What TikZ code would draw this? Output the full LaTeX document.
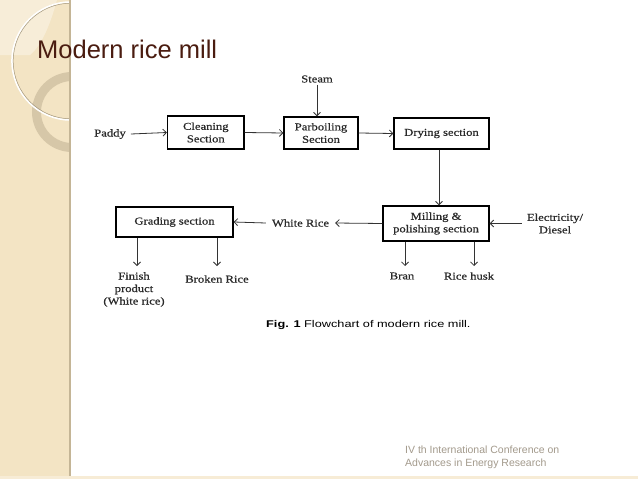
\documentclass[tikz,border=0pt]{standalone}
\usepackage{fontspec}
\setmainfont{Liberation Serif}
\newfontfamily\diagfont[FakeStretch=1.2,FakeBold=0.7]{Liberation Serif}
\newfontfamily\capfont[FakeStretch=1.3]{Liberation Sans}
\newfontfamily\slidefont{Liberation Sans}
\usetikzlibrary{arrows.meta}
\definecolor{stripbg}{HTML}{F3E4C4}
\definecolor{stripedge}{HTML}{C4B596}
\definecolor{ringcol}{HTML}{CDBE9F}
\definecolor{titlecol}{HTML}{4A1C10}
\definecolor{footcol}{HTML}{A39A8C}
\definecolor{arrcol}{HTML}{333333}
\definecolor{diagtext}{HTML}{2A2A2A}
\tikzset{
  procbox/.style={draw=black, line width=1.3pt, align=center, inner sep=0pt, text=diagtext,
    font=\diagfont\fontsize{10.5}{12.5}\selectfont},
  lbl/.style={align=center, inner sep=2pt, text=diagtext, font=\diagfont\fontsize{10.5}{12.5}\selectfont},
  flow/.style={draw=arrcol, line width=0.8pt, -{Straight Barb[length=3.5pt,width=7pt]}}
}
\begin{document}
\begin{tikzpicture}[x=1pt,y=-1pt]
\useasboundingbox (0,0) rectangle (638,479);
\fill[white] (0,0) rectangle (638,479);
% left strip
\fill[stripbg] (0,0) rectangle (70,479);
\begin{scope}
  \clip (0,0) rectangle (70,479);
  \fill[white, opacity=0.35] (0,0) -- (57,0) .. controls (50,25) and (42,45) .. (30,55) -- (0,55) -- cycle;
  \draw[ringcol, opacity=0.75, line width=9pt] (72,112) circle [radius=35.5];
  \draw[white, line width=1.6pt] (71,61) circle [radius=59];
  \draw[ringcol!80!black, line width=0.5pt] (71,61) circle [radius=57.8];
\end{scope}
\fill[stripedge] (69,0) rectangle (71,479);
\fill[stripbg!70!white] (0,476) rectangle (638,479);
% title
\node[anchor=base west, inner sep=0pt, text=titlecol,
  font=\slidefont\fontsize{25.5}{30}\selectfont] (title) at (37,58) {Modern rice mill};
% boxes
\node[procbox, minimum width=76.5pt, minimum height=33pt] (clean) at (205.8,132.5) {Cleaning\\Section};
\node[procbox, minimum width=74pt, minimum height=32pt] (parb) at (321,133) {Parboiling\\Section};
\node[procbox, minimum width=95pt, minimum height=31pt] (dry) at (441.5,133.5) {Drying section};
\node[procbox, minimum width=106pt, minimum height=35pt] (mill) at (436,223.5) {Milling \&\\polishing section};
\node[procbox, minimum width=117pt, minimum height=30pt] (grade) at (174.5,222) {Grading section};
% labels
\node[lbl] (paddy) at (110,134) {Paddy};
\node[lbl] (steam) at (317,79) {Steam};
\node[lbl] (elec) at (555,223.5) {Electricity/\\Diesel};
\node[lbl] (white) at (300.5,223) {White Rice};
\node[lbl] (finish) at (134,289.5) {Finish\\product\\(White rice)};
\node[lbl] (broken) at (217,279) {Broken Rice};
\node[lbl] (bran) at (402,276) {Bran};
\node[lbl] (husk) at (469,276) {Rice husk};
% free ends
\coordinate (g1) at (137,266);
\coordinate (g2) at (217,266);
\coordinate (m1) at (405,266);
\coordinate (m2) at (474,266);
\coordinate (d1) at (439,149);
% connectors
\draw[flow] ([xshift=3pt]paddy.east) -- (clean.west);
\draw[flow] (clean.east) -- (parb.west);
\draw[flow] (steam.south) -- (steam.south |- parb.north);
\draw[flow] (parb.east) -- (dry.west);
\draw[flow] (d1 |- dry.south) -- (d1 |- mill.north);
\draw[flow] ([xshift=-3pt]elec.west) -- (mill.east);
\draw[flow] (mill.west) -- ([xshift=4pt]white.east);
\draw[flow] ([xshift=-4pt]white.west) -- (grade.east);
\draw[flow] (g1 |- grade.south) -- (g1);
\draw[flow] (g2 |- grade.south) -- (g2);
\draw[flow] (m1 |- mill.south) -- (m1);
\draw[flow] (m2 |- mill.south) -- (m2);
% caption
\node[anchor=west, inner sep=0pt, font=\capfont\fontsize{9.8}{12}\selectfont] (cap) at (266,325)
  {\textbf{Fig. 1} Flowchart of modern rice mill.};
% footer
\node[anchor=north west, align=left, inner sep=0pt, text=footcol,
  font=\slidefont\fontsize{10.5}{13}\selectfont] (foot) at (405,446)
  {IV th International Conference on\\Advances in Energy Research};
\end{tikzpicture}
\end{document}
